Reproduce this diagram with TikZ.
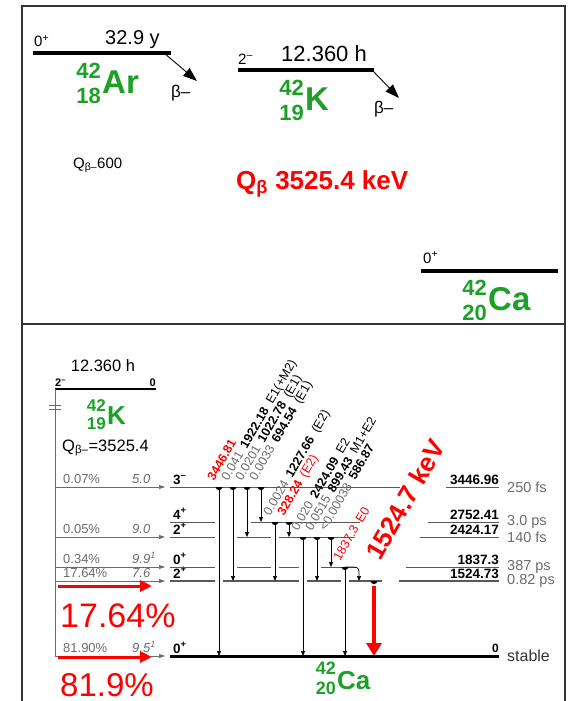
\documentclass[tikz,border=0pt]{standalone}
\usepackage{fontspec}
\setmainfont{Liberation Sans}
\usepackage{xcolor}
\usetikzlibrary{arrows.meta}

\definecolor{isogreen}{RGB}{30,160,40}
\definecolor{qred}{RGB}{255,0,0}
\definecolor{lvlgray}{gray}{0.35}
\definecolor{txtgray}{gray}{0.42}

\newcommand{\fs}[1]{\fontsize{#1}{#1}\selectfont}
\newcommand{\glab}[3]{{\color{txtgray}#1}\enspace\textbf{#2}\enspace#3}

\tikzset{
  frame/.style={draw=black!80, line width=1.1pt},
  toplevel/.style={line width=3.5pt},
  level/.style={draw=lvlgray, line width=0.8pt},
  gamma/.style={line width=0.7pt, -{Triangle[length=5pt,width=4pt]}},
  feed/.style={draw=txtgray, line width=0.7pt, -{Triangle[length=6pt,width=4pt]}},
  redfeed/.style={draw=qred, line width=3pt, -{Triangle[length=12pt,width=11pt]}},
  betaarr/.style={line width=0.9pt, -{Triangle[length=14pt,width=10pt]}},
  elemtop/.style={text=isogreen, font=\bfseries\fs{33}, inner sep=0pt},
  masstop/.style={text=isogreen, font=\bfseries\fs{22}, inner sep=0pt, xshift=-1pt},
  elembot/.style={text=isogreen, font=\bfseries\fs{26}, inner sep=0pt},
  massbot/.style={text=isogreen, font=\bfseries\fs{17}, inner sep=0pt, xshift=-1pt},
  feedlab/.style={text=txtgray, font=\fs{13}, inner sep=0pt},
  spinlab/.style={font=\bfseries\fs{13.5}, inner sep=0pt},
  enlab/.style={font=\bfseries\fs{13.5}, inner sep=0pt},
  hllab/.style={text=txtgray, font=\fs{14.5}, inner sep=0pt},
  glabel/.style={rotate=60, anchor=base west, font=\fs{12.5}, inner sep=0pt},
  gdot/.pic={\fill (-3.5,0) .. controls (-3,4) and (3,4) .. (3.5,0) -- cycle;}
}

\begin{document}
\begin{tikzpicture}[x=1pt,y=-1pt]

% ============================================================
% 参数区
% ============================================================

\def\Lx{170}    % 能级左端
\def\Rx{499}    % 能级右端
\def\Fx{55}     % 馈送竖线

\useasboundingbox (0,0) rectangle (568,701);

% 外框
\draw[frame] (22,701) -- (22,6) -- (565,6) -- (565,701);
\draw[frame] (22,324) -- (565,324);

% ============================================================
% 上半部分：衰变链
% ============================================================

% 42Ar
\draw[toplevel] (33,53) -- (171,53);
\node[anchor=base west, font=\fs{15}, inner sep=0pt] (ar-jp) at (34,47) {0\textsuperscript{+}};
\node[anchor=base west, font=\fs{20}, inner sep=0pt] (ar-t) at (105,45) {32.9 y};
\coordinate (ar-b) at (164,53);
\coordinate (ar-e) at (197,81);
\draw[betaarr] (ar-b) -- (ar-e);
\node[anchor=base west, font=\fs{17}, inner sep=0pt] (ar-beta) at (171,97) {β–};
\node[elemtop, anchor=base west] (ar) at (102,93) {Ar};
\node[masstop, anchor=base east] (ar-a) at ([yshift=15pt]ar.base west) {42};
\node[masstop, anchor=base east] (ar-z) at ([yshift=-10pt]ar.base west) {18};

% 42K
\draw[toplevel] (238,70) -- (374,70);
\node[anchor=base west, font=\fs{15}, inner sep=0pt] (k-jp) at (238,64) {2\textsuperscript{–}};
\node[anchor=base west, font=\fs{22}, inner sep=0pt] (k-t) at (281,62) {12.360 h};
\coordinate (k-b) at (372,70);
\coordinate (k-e) at (399,98);
\draw[betaarr] (k-b) -- (k-e);
\node[anchor=base west, font=\fs{17}, inner sep=0pt] (k-beta) at (374,113) {β–};
\node[elemtop, anchor=base west] (k) at (305,110) {K};
\node[masstop, anchor=base east] (k-a) at ([yshift=15pt]k.base west) {42};
\node[masstop, anchor=base east] (k-z) at ([yshift=-10pt]k.base west) {19};

% Q 值
\node[anchor=base west, font=\fs{15}, inner sep=0pt] (q-ar) at (73,168) {Q\textsubscript{β–}600};
\node[anchor=base west, text=qred, font=\bfseries\fs{26}, inner sep=0pt] (q-k) at (236,189) {Q\textsubscript{β} 3525.4 keV};

% 42Ca
\draw[toplevel] (421,271) -- (558,271);
\node[anchor=base west, font=\fs{15}, inner sep=0pt] (ca-jp) at (423,263) {0\textsuperscript{+}};
\node[elemtop, anchor=base west] (ca) at (488,310) {Ca};
\node[masstop, anchor=base east] (ca-a) at ([yshift=15pt]ca.base west) {42};
\node[masstop, anchor=base east] (ca-z) at ([yshift=-10pt]ca.base west) {20};

% ============================================================
% 下半部分：能级图
% ============================================================

% 母核
\node[anchor=base, font=\fs{16.5}, inner sep=0pt] (p-t) at (103,371) {12.360 h};
\draw[line width=2.2pt] (\Fx,389) -- (156,389);
\node[anchor=base west, font=\bfseries\fs{11}, inner sep=0pt] (p-jp) at (55,386) {2\textsuperscript{–}};
\node[anchor=base east, font=\bfseries\fs{11}, inner sep=0pt] (p-e) at (156,386) {0};
\draw[draw=txtgray, line width=0.7pt] (\Fx,389) -- (\Fx,656);
\draw[draw=txtgray, line width=0.7pt] (49,405) -- (61,405) (49,409.5) -- (61,409.5);
\node[elembot, anchor=base west] (kb) at (107,424) {K};
\node[massbot, anchor=base east] (kb-a) at ([yshift=13pt]kb.base west) {42};
\node[massbot, anchor=base east] (kb-z) at ([yshift=-5pt]kb.base west) {19};
\node[anchor=base west, font=\fs{16.5}, inner sep=0pt] (p-q) at (62,451) {Q\textsubscript{β–}=3525.4};

% β 馈送
\foreach \yy/\pct/\ft/\jp in {487/0.07\%/5.0/3\textsuperscript{–},
    537/0.05\%/9.0/2\textsuperscript{+},
    567/0.34\%/9.9\textsuperscript{1}/0\textsuperscript{+},
    581/17.64\%/7.6/2\textsuperscript{+},
    656/81.90\%/9.5\textsuperscript{1}/0\textsuperscript{+}} {
  \draw[feed] (\Fx,\yy) -- (165,\yy);
  \node[feedlab, anchor=base west] (pct-\yy) at (63,\yy-4) {\pct};
  \node[feedlab, anchor=base west, font=\itshape\fs{13}] (ft-\yy) at (132,\yy-4) {\ft};
  \node[spinlab, anchor=base west] (jp-\yy) at (173,\yy-3) {\jp};
}
\node[spinlab, anchor=base west] (jp-522) at (173,519) {4\textsuperscript{+}};

% 能级（左段，竖线穿过处断开）
\draw[level] (\Lx,487) -- (400,487);
\draw[level] (\Lx,522) -- (215,522) (251,522) -- (360,522);
\draw[level] (\Lx,537) -- (215,537) (237,537) -- (271,537) (279,537) -- (355,537);
\draw[level] (\Lx,567) -- (215,567) (237,567) -- (271,567) (279,567) -- (299,567) (321,567) -- (357,567);
\draw[level, line width=1.4pt] (\Lx,581) -- (215,581) (223,581) -- (299,581) (307,581) -- (341,581) (349,581) -- (382,581);
\draw[line width=3pt] (\Lx,656) -- (\Rx,656);

% 能级（右段 + 能量 + 寿命）
\foreach \yy/\en/\hl/\xs/\lw in {487/3446.96/250 fs/446/0.8pt,
    522/2752.41/3.0 ps/428/0.8pt,
    537/2424.17/140 fs/420/0.8pt,
    567/1837.3/387 ps/406/0.8pt,
    581/1524.73/0.82 ps/399/1.4pt} {
  \draw[level, line width=\lw] (\xs,\yy) -- (\Rx,\yy);
  \node[enlab, anchor=base east] (en-\yy) at (\Rx,\yy-2.5) {\en};
  \node[hllab, anchor=west] (hl-\yy) at (507,\yy) {\hl};
}
\node[enlab, anchor=base east, font=\bfseries\fs{12}] (en-0) at (\Rx,652) {0};
\node[hllab, anchor=west, text=black!80, font=\fs{16}] (hl-0) at (507,656) {stable};

% γ 跃迁
\foreach \gx/\gt/\gb in {219/487/656, 233/487/581, 247/487/537, 261/487/522,
    275/522/581, 289/522/537, 303/537/656, 317/537/581, 331/537/567, 345/567/656} {
  \pic at (\gx,\gt) {gdot};
  \draw[gamma] (\gx,\gt) -- (\gx,\gb);
}
\draw[gamma] (345,567) -- (353,567) .. controls (359,567) and (359,569) .. (359,575) -- (359,581);

% γ 标注
\foreach \gx/\gt/\txt in {219/487/{\color{qred}\bfseries 3446.81},
    233/487/{\glab{0.041}{1922.18}{E1(+M2)}},
    247/487/{\glab{0.0201}{1022.78}{(E1)}},
    261/487/{\glab{0.0033}{694.54}{(E1)}},
    275/522/{\glab{0.0024}{1227.66}{(E2)}},
    289/522/{\color{qred}\textbf{328.24}\enspace(E2)},
    303/537/{\glab{0.020}{2424.09}{E2}},
    317/537/{\glab{0.0515}{899.43}{M1+E2}},
    331/537/{\glab{<0.00038}{586.87}{}},
    345/567/{\color{qred}1837.3\enspace E0}} {
  \node[glabel] (gl-\gx) at (\gx-5,\gt-5) {\txt};
}

% 主跃迁 1524.7 keV
\pic at (374,581) {gdot};
\draw[draw=qred, line width=4pt, -{Triangle[length=13pt,width=15pt]}] (374,586) -- (374,656);
\node[rotate=60, anchor=base west, text=qred, font=\bfseries\fs{26}, inner sep=0pt] (g1524) at (380,562) {1524.7 keV};

% 42Ca
\node[elembot, anchor=base west] (cab) at (337,689) {Ca};
\node[massbot, anchor=base east, font=\bfseries\fs{18}] (cab-a) at ([yshift=15pt]cab.base west) {42};
\node[massbot, anchor=base east, font=\bfseries\fs{18}] (cab-z) at ([yshift=-5pt]cab.base west) {20};

% 分支比
\draw[redfeed] (58,586) -- (152,586);
\draw[redfeed] (58,657) -- (152,657);
\node[anchor=base west, text=qred, font=\fs{34}, inner sep=0pt] (br1) at (60,627) {17.64\%};
\node[anchor=base west, text=qred, font=\fs{33}, inner sep=0pt] (br2) at (60,696) {81.9\%};

\end{tikzpicture}
\end{document}
